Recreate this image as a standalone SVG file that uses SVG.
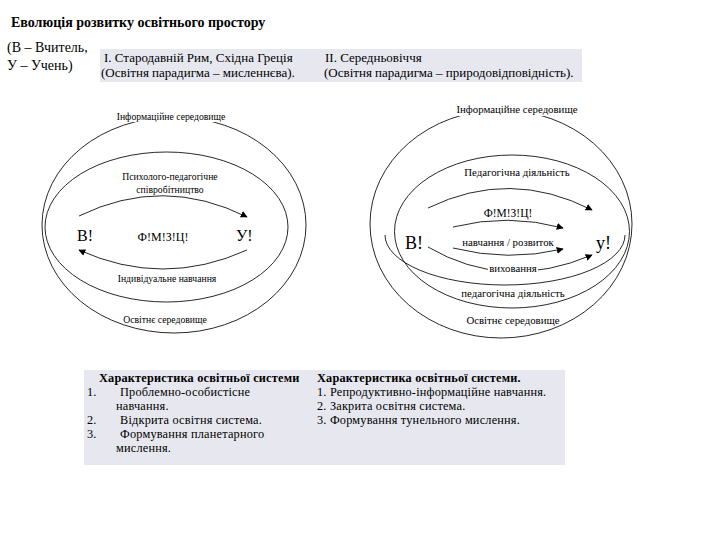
<svg xmlns="http://www.w3.org/2000/svg" width="720" height="540" viewBox="0 0 720 540">
<style>
  text { font-family: "Liberation Serif", "DejaVu Serif", serif; fill: #000; }
  .t13 { font-size: 13px; }
  .t12 { font-size: 12.3px; letter-spacing: 0.2px; }
  .b { font-weight: bold; }
  .sl { font-size: 9.7px; }
  .sr { font-size: 10.8px; }
  .line { fill: none; stroke: #111; stroke-width: 0.9; }
  .box { fill: #e7e8ef; }
  .bg { fill: #fff; }
</style>
<defs>
  <marker id="ah" viewBox="0 0 10 10" refX="9" refY="5" markerWidth="7" markerHeight="7" orient="auto" markerUnits="userSpaceOnUse">
    <path d="M0,0 L10,5 L0,10 z" fill="#000"/>
  </marker>
</defs>
<rect width="720" height="540" fill="#fff"/>

<g id="title">
  <text x="11" y="27" class="b" font-size="14">Еволюція розвитку освітнього простору</text>
  <text x="7" y="52" font-size="14">(В – Вчитель,</text>
  <text x="7" y="70" font-size="14">У – Учень)</text>
</g>

<g id="paradigms">
  <rect x="100" y="49" width="482" height="33" class="box"/>
  <text x="104" y="62" class="t13">I. Стародавній Рим, Східна Греція</text>
  <text x="101" y="77" class="t13">(Освітня парадигма – мисленнєва).</text>
  <text x="325" y="62" class="t13">II. Середньовіччя</text>
  <text x="324" y="77" class="t13">(Освітня парадигма – природовідповідність).</text>
</g>

<g id="left-diagram">
  <g id="left-ellipses">
    <ellipse cx="174" cy="225" rx="132" ry="108" class="line"/>
    <ellipse cx="166.5" cy="227" rx="121.5" ry="75" class="line"/>
  </g>
  <g id="left-connectors">
    <path d="M79,216 Q163,175 247,217" class="line" marker-end="url(#ah)"/>
    <path d="M247,250 Q163,288 79,250" class="line" marker-end="url(#ah)"/>
  </g>
  <g id="left-labels">
    <rect x="116" y="111" width="110" height="11" class="bg"/>
    <text x="171" y="120" class="sl" text-anchor="middle">Інформаційне середовище</text>
    <text x="170" y="180" class="sl" text-anchor="middle">Психолого-педагогічне</text>
    <text x="170" y="193" class="sl" text-anchor="middle">співробітництво</text>
    <text x="77" y="241" font-size="16">В!</text>
    <text x="163" y="241" font-size="12" text-anchor="middle">Ф!М!З!Ц!</text>
    <text x="236" y="241" font-size="16">У!</text>
    <text x="167" y="282" class="sl" text-anchor="middle">Індивідуальне навчання</text>
    <text x="165" y="323" class="sl" text-anchor="middle">Освітнє середовище</text>
  </g>
</g>

<g id="right-diagram">
  <g id="right-ellipses">
    <ellipse cx="501" cy="224" rx="131" ry="114" class="line"/>
    <ellipse cx="512" cy="231.5" rx="117.5" ry="76.5" class="line"/>
    <path d="M385,235 A120,50 0 0 0 625,235" class="line"/>
  </g>
  <g id="right-connectors">
    <path d="M428,208 Q510,168 592,210" class="line" marker-end="url(#ah)"/>
    <path d="M453,227 Q508,213 563,228" class="line" marker-end="url(#ah)"/>
    <path d="M453,248 Q508,262 563,249" class="line" marker-end="url(#ah)"/>
    <path d="M428,247 Q505,292 592,255" class="line" marker-end="url(#ah)"/>
  </g>
  <g id="right-labels">
    <rect x="456" y="104" width="122" height="12" class="bg"/>
    <text x="517" y="113" class="sr" text-anchor="middle">Інформаційне середовище</text>
    <text x="517" y="176" class="sr" text-anchor="middle">Педагогічна діяльність</text>
    <text x="508" y="217" font-size="11.5" text-anchor="middle">Ф!М!З!Ц!</text>
    <text x="405" y="249" font-size="18">В!</text>
    <text x="508" y="246" class="sr" text-anchor="middle">навчання / розвиток</text>
    <text x="596" y="249" font-size="18">у!</text>
    <rect x="488" y="263" width="50" height="11" class="bg"/>
    <text x="513" y="272" class="sr" text-anchor="middle">виховання</text>
    <text x="513" y="297" class="sr" text-anchor="middle">педагогічна діяльність</text>
    <text x="513" y="324" class="sr" text-anchor="middle">Освітнє середовище</text>
  </g>
</g>

<g id="characteristics">
  <rect x="84" y="370" width="481" height="95" class="box"/>
  <text x="99" y="382" class="t12 b">Характеристика освітньої системи</text>
  <text x="87" y="396" class="t12">1.</text>
  <text x="120" y="396" class="t12">Проблемно-особистісне</text>
  <text x="116" y="410" class="t12">навчання.</text>
  <text x="87" y="424" class="t12">2.</text>
  <text x="120" y="424" class="t12">Відкрита освітня система.</text>
  <text x="87" y="438" class="t12">3.</text>
  <text x="120" y="438" class="t12">Формування планетарного</text>
  <text x="116" y="452" class="t12">мислення.</text>
  <text x="317" y="382" class="t12 b">Характеристика освітньої системи.</text>
  <text x="317" y="396" class="t12">1. Репродуктивно-інформаційне навчання.</text>
  <text x="317" y="410" class="t12">2. Закрита освітня система.</text>
  <text x="317" y="424" class="t12">3. Формування тунельного мислення.</text>
</g>
</svg>
